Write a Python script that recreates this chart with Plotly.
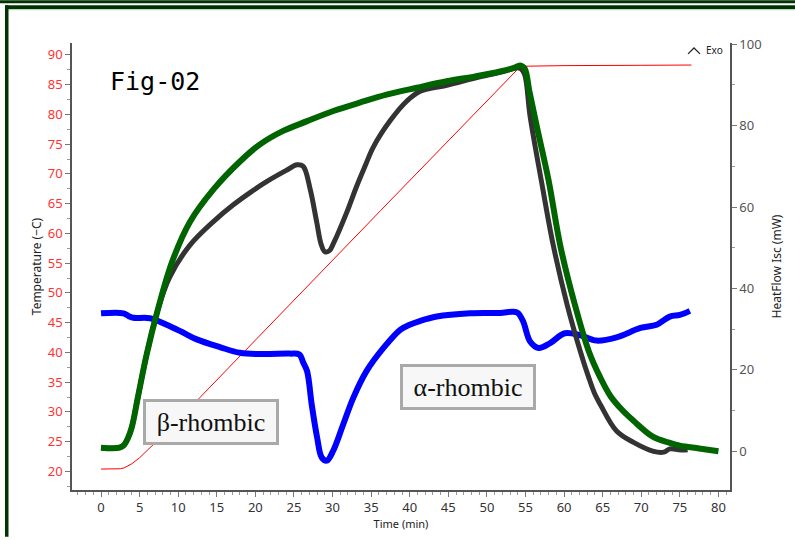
import plotly.graph_objects as go

# ---------------- data ----------------
red_t = [0, 2.5, 3.0, 3.5, 4.0, 5.0, 6.0, 7.0, 8.0, 12.8, 36.2, 54.0, 55.0, 60.0, 70.0, 76.5]
red_T = [20.4, 20.45, 20.6, 20.9, 21.3, 22.3, 23.5, 24.8, 26.1, 32.4, 63.8, 87.6, 88.1, 88.2, 88.25, 88.3]

green_t = [0, 2.4, 3.0, 3.5, 4.0, 4.8, 5.9, 7.4, 9.2, 11.5, 14.6, 18.0, 20.6, 23.6, 26.7, 30.1,
           33.6, 37.0, 40.9, 44.8, 48.5, 51.7, 53.5, 54.3, 54.9, 55.5, 56.5, 58.0, 59.5, 61.4,
           63.2, 64.7, 66.0, 67.5, 69.0, 71.5, 73.5, 75.0, 77.5, 80.0]
green_H = [0.9, 0.9, 1.6, 3.3, 6.0, 13.5, 23.7, 35.1, 46.5, 56.3, 64.4, 71.2, 75.4, 78.7, 81.1, 83.6,
           85.7, 87.6, 89.3, 90.9, 92.1, 93.3, 94.2, 94.8, 94.0, 88.5, 79.5, 66.5, 50.6, 36.0,
           24.6, 18.1, 13.6, 10.2, 7.5, 3.6, 2.2, 1.4, 0.7, 0.0]

black_t = [0, 2.4, 3.0, 3.5, 4.0, 4.8, 5.9, 7.4, 8.9, 11.5, 14.6, 17.1, 19.5, 21.5, 24.0, 25.4, 26.2,
           27.1, 27.95, 28.5, 29.0, 29.6, 30.1, 31.8, 33.1, 34.2, 35.3, 37.5, 39.6, 41.3, 44.8,
           49.1, 52.0, 53.9, 54.4, 54.9, 55.6, 57.1, 58.6, 60.4, 62.1, 63.2, 64.0, 64.7, 66.8,
           69.0, 71.6, 72.9, 73.7, 74.5, 75.4, 76.0]
black_H = [0.9, 0.9, 1.6, 3.3, 6.0, 13.5, 23.7, 35.0, 42.8, 50.6, 56.5, 60.5, 63.8, 66.3, 69.0, 70.4, 70.0,
           64.4, 56.3, 51.0, 49.0, 49.3, 51.0, 58.5, 65.0, 70.0, 74.8, 81.3, 86.0, 88.4, 89.9,
           92.0, 93.2, 94.2, 94.0, 92.5, 82.3, 66.0, 50.6, 36.0, 24.6, 18.1, 14.0, 11.5, 5.0,
           2.2, 0.0, -0.2, 0.6, 0.5, 0.3, 0.4]

blue_t = [0, 2.9, 3.6, 4.2, 6.35, 8.5, 10.5, 12.4, 15.4, 18.0, 21.0, 24.5, 25.7, 26.2, 26.7, 27.3,
          28.0, 28.6, 29.25, 30.1, 31.4, 32.7, 34.4, 36.6, 38.8, 40.0, 41.3, 43.5, 47.8, 51.7,
          53.4, 54.0, 54.7, 55.6, 56.7, 58.2, 60.1, 62.1, 64.2, 66.8, 69.9, 72.0, 73.7, 75.0, 76.3]
blue_H = [33.9, 33.9, 33.2, 32.8, 32.7, 31.1, 29.3, 27.5, 25.6, 24.2, 23.9, 24.0, 23.8, 21.8, 19.7, 11.5,
          3.4, -1.5, -2.3, 0.2, 6.7, 13.2, 19.7, 25.4, 29.9, 31.1, 32.0, 33.1, 33.9, 34.0,
          34.3, 34.0, 31.9, 27.0, 25.4, 26.6, 29.0, 28.5, 27.2, 28.0, 30.3, 31.1, 33.1, 33.5, 34.5]

x_ticks = list(range(0, 81, 5))
temp_ticks = list(range(20, 91, 5))
heat_ticks = list(range(0, 101, 20))

# ---------------- figure ----------------
fig = go.Figure()
fig.add_trace(go.Scatter(x=red_t, y=red_T, mode="lines", yaxis="y",
                         line=dict(color="#ff0000", width=1), showlegend=False))
fig.add_trace(go.Scatter(x=blue_t, y=blue_H, mode="lines", yaxis="y2",
                         line=dict(color="#0000ff", width=6, shape="spline", smoothing=1.0),
                         showlegend=False))
fig.add_trace(go.Scatter(x=black_t, y=black_H, mode="lines", yaxis="y2",
                         line=dict(color="#333333", width=5, shape="spline", smoothing=1.0),
                         showlegend=False))
fig.add_trace(go.Scatter(x=green_t, y=green_H, mode="lines", yaxis="y2",
                         line=dict(color="#006400", width=6, shape="spline", smoothing=1.0),
                         showlegend=False))

W, H = 795, 540
L, R, T, B = 72, 65, 43, 47
pw, ph = W - L - R, H - T - B


def px(xp):
    return (xp - L) / pw


def py(yp):
    return (H - B - yp) / ph


fig.update_layout(
    width=W, height=H,
    margin=dict(l=L, r=R, t=T, b=B),
    paper_bgcolor="white", plot_bgcolor="white",
    font=dict(family="Noto Sans, sans-serif", color="#222"),
    xaxis=dict(
        range=[-3.76, 81.5], tickvals=x_ticks, ticks="outside", ticklen=5,
        tickcolor="#777", showline=True, linecolor="#555", linewidth=1.5,
        showgrid=False, zeroline=False,
        tickfont=dict(family="Noto Sans, sans-serif", size=13, color="#333"),
        minor=dict(dtick=1, ticks="outside", ticklen=3, tickcolor="#999"),
        title=dict(text="Time (min)", font=dict(size=11, color="#222"), standoff=4),
    ),
    yaxis=dict(
        range=[16.88, 92.0], tickvals=temp_ticks, ticks="outside", ticklen=5,
        tickcolor="#777", showline=True, linecolor="#555", linewidth=1.5,
        showgrid=False, zeroline=False,
        tickfont=dict(family="Noto Sans, sans-serif", size=13, color="#ff3333"),
        minor=dict(dtick=2.5, ticks="outside", ticklen=3, tickcolor="#999"),
        title=dict(text="Temperature (−C)", font=dict(size=12, color="#222"), standoff=4),
    ),
    yaxis2=dict(
        range=[-9.5, 100.3], tickvals=heat_ticks, ticks="outside", ticklen=5,
        tickcolor="#777", showline=True, linecolor="#555", linewidth=1.5,
        overlaying="y", side="right", showgrid=False, zeroline=False,
        tickfont=dict(family="Noto Sans, sans-serif", size=13, color="#555"),
        minor=dict(dtick=10, ticks="outside", ticklen=3, tickcolor="#999"),
        title=dict(text="HeatFlow Isc (mW)", font=dict(size=12, color="#222"), standoff=12),
    ),
)

common = dict(xref="paper", yref="paper", showarrow=False, xanchor="center", yanchor="middle")
annotations = [
    dict(text="Fig-02", x=px(155), y=py(82),
         font=dict(family="DejaVu Sans Mono, monospace", size=25, color="#000"), **common),
    dict(text="β-rhombic", x=px(211.3), y=py(424.5),
         font=dict(family="Liberation Serif, Times New Roman, serif", size=26, color="#111"),
         bgcolor="#f7f7f7", bordercolor="#a9a9a9", borderwidth=3, borderpad=0,
         width=130, height=40, **common),
    dict(text="α-rhombic", x=px(468.2), y=py(389.5),
         font=dict(family="Liberation Serif, Times New Roman, serif", size=26, color="#111"),
         bgcolor="#f7f7f7", bordercolor="#a9a9a9", borderwidth=3, borderpad=0,
         width=130, height=40, **common),
    dict(text="Exo", x=px(714.5), y=py(50), font=dict(family="Noto Sans, sans-serif", size=10, color="#222"),
         **common),
]
fig.update_layout(annotations=annotations)

frame = "#033303"
shapes = [
    dict(type="rect", xref="paper", yref="paper", x0=px(0), x1=px(795), y0=py(3), y1=py(0),
         fillcolor=frame, line=dict(width=0)),
    dict(type="rect", xref="paper", yref="paper", x0=px(5), x1=px(795), y0=py(9), y1=py(5),
         fillcolor=frame, line=dict(width=0)),
    dict(type="rect", xref="paper", yref="paper", x0=px(8), x1=px(795), y0=py(10), y1=py(9),
         fillcolor="#b8dcb8", line=dict(width=0)),
    dict(type="rect", xref="paper", yref="paper", x0=px(5), x1=px(8.5), y0=py(540), y1=py(5),
         fillcolor=frame, line=dict(width=0)),
    # "Exo" chevron marker
    dict(type="path", xref="paper", yref="paper",
         path="M %f,%f L %f,%f L %f,%f" % (px(688), py(54), px(694), py(48), px(700), py(54)),
         line=dict(color="#222", width=1.2)),
]
fig.update_layout(shapes=shapes)

fig.write_html("out.html")
